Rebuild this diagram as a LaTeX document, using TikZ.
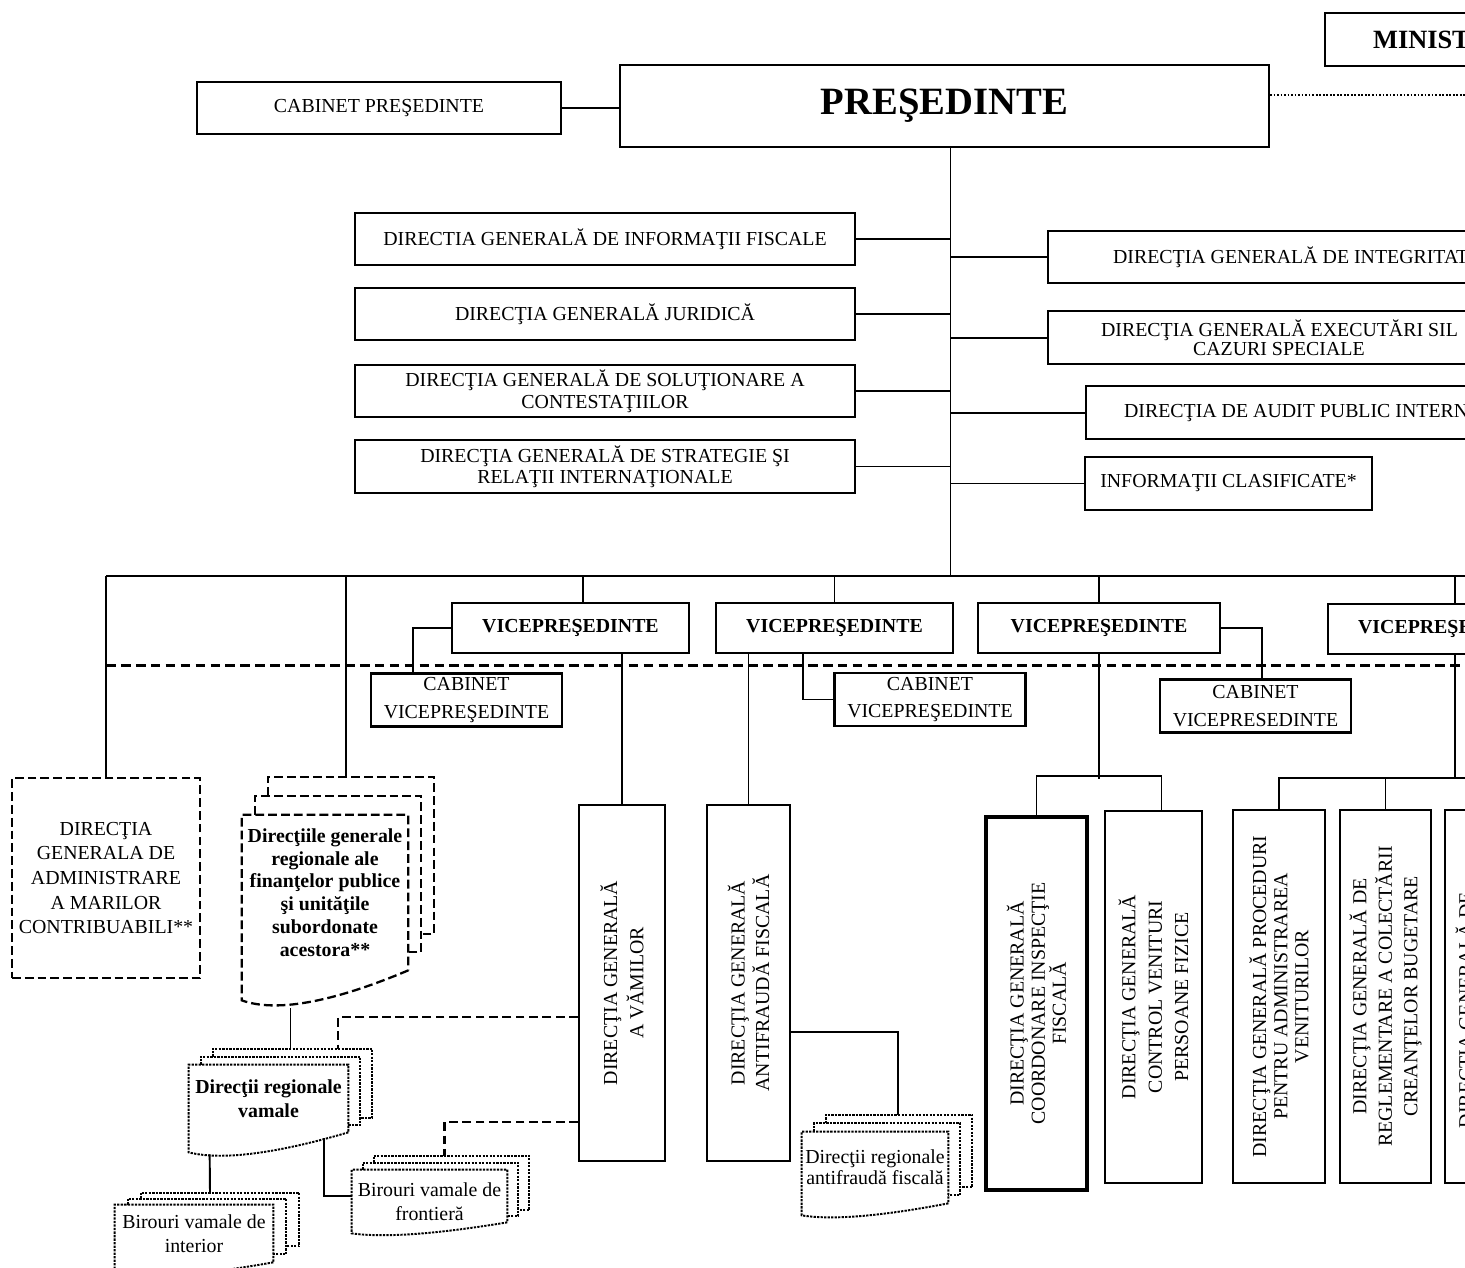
\documentclass[tikz,border=0pt]{standalone}
\usepackage{fontspec}
\setmainfont{Liberation Serif}
\usetikzlibrary{positioning,calc,fit}

\newcommand{\fs}{\fontsize{11.3}{12}\selectfont}
% stacked documents: #1 front node, #2 line style, #3 x step, #4 y step, #5 bottom step, #6 wave drop
\newcommand{\docstack}[6]{%
  \draw[#2] ($(#1.north west)+(#3,0)$) -- ++(0,-#4) -| ($(#1.south east)+(#3,-#5)$) -- ++(-#3,0);
  \draw[#2] ($(#1.north west)+(2*#3,-#4)$) -- ++(0,-#4) -| ($(#1.south east)+(2*#3,-2*#5)$) -- ++(-#3,0);
  \draw[#2] (#1.south east) .. controls ($(#1.south east)!0.47!(#1.south west)+(0,1.1*#6)$)
    and ($(#1.south east)!0.8!(#1.south west)+(0,1.4*#6)$) .. ($(#1.south west)+(0,#6)$)
    -- (#1.north west) -- (#1.north east) -- cycle;
}

\begin{document}
\begin{tikzpicture}[x=0.02cm, y=-0.02cm,
    box/.style={draw, line width=1.3pt, inner sep=0pt, align=center, font=\fs},
    dirbox/.style={box, minimum width=10cm, minimum height=1.05cm},
    edgebox/.style={box, anchor=north west, minimum height=1.06cm, text width=8cm, align=flush left},
    vpbox/.style={box, minimum height=1cm, font=\fs\bfseries},
    cabbox/.style={box, minimum width=3.82cm, minimum height=1.06cm, font=\fontsize{11.3}{15.5}\selectfont},
    stacktext/.style={inner sep=0pt, align=center, font=\fs},
    vtext/.style={rotate=90, align=center, inner sep=0pt},
    link/.style={line width=1.1pt},
    dlink/.style={line width=1.3pt, dash pattern=on 5pt off 2.6pt},
    dotline/.style={line width=1pt, dash pattern=on 1pt off 1pt},
    sepline/.style={line width=1.7pt, dash pattern=on 5.5pt off 3pt},
    dashbox/.style={line width=1.3pt, dash pattern=on 5pt off 2.3pt},
    dotbox/.style={line width=1.1pt, dash pattern=on 1.3pt off 0.7pt}]
    \useasboundingbox (0,0) rectangle (1465,1268);
    \fill[white] (0,0) rectangle (1465,1268);
    \clip (0,0) rectangle (1465,1268);

    % President
    \node[box, minimum width=7.28cm, minimum height=1.04cm] (cabpres) at (379,108) {CABINET PREŞEDINTE};
    \node[box, minimum width=12.98cm, minimum height=1.64cm, font=\fontsize{22}{24}\selectfont\bfseries] (pres) at (944.5,106) {PREŞEDINTE};
    \node[edgebox, inner xsep=0.96cm, font=\fontsize{15}{16}\selectfont\bfseries] (minist) at (1324,12) {MINIST};
    \draw[link] (cabpres.east) -- (cabpres.east -| pres.west);
    \draw[dotline] ($(pres.east)+(0,-11)$) -- ++(220,0);

    % General directions on the trunk
    \node[dirbox] (dgif) at (605,239) {DIRECTIA GENERALĂ DE INFORMAŢII FISCALE};
    \node[dirbox] (dgj) at (605,314) {DIRECŢIA GENERALĂ JURIDICĂ};
    \node[dirbox, font=\fontsize{11.3}{12.5}\selectfont] (dgsc) at (605,391) {DIRECŢIA GENERALĂ DE SOLUŢIONARE A\\CONTESTAŢIILOR};
    \node[dirbox, font=\fontsize{11.3}{12}\selectfont] (dgsri) at (605,466.5) {DIRECŢIA GENERALĂ DE STRATEGIE ŞI\\RELAŢII INTERNAŢIONALE};
    \node[edgebox, minimum height=1.04cm, inner xsep=1.3cm] (dgi) at (1047,230) {DIRECŢIA GENERALĂ DE INTEGRITAT};
    \node[edgebox, inner xsep=1.06cm, font=\fontsize{11.3}{11}\selectfont] (dges) at (1047,310) {DIRECŢIA GENERALĂ EXECUTĂRI SIL\\\hspace*{1.84cm}CAZURI SPECIALE};
    \node[edgebox, inner xsep=0.76cm] (dapi) at (1085,385) {DIRECŢIA DE AUDIT PUBLIC INTERN};
    \node[box, minimum width=5.74cm, minimum height=1.06cm] (ic) at (1228.5,483.5) {INFORMAŢII CLASIFICATE*};

    \coordinate (t0) at ($(pres.south)+(6,0)$);
    \coordinate (busL) at (106,576);
    \coordinate (busR) at (1480,576);
    \draw[link] (t0) -- (t0 |- busL);
    \draw[link] (dgif.east) -- (dgif.east -| t0);
    \draw[link] (dgj.east) -- (dgj.east -| t0);
    \draw[link] (dgsc.east) -- (dgsc.east -| t0);
    \draw[link] (dgsri.east) -- (dgsri.east -| t0);
    \draw[link] (dgi.west) -- (dgi.west -| t0);
    \draw[link] (dges.west) -- (dges.west -| t0);
    \draw[link] (dapi.west) -- (dapi.west -| t0);
    \draw[link] (ic.west) -- (ic.west -| t0);

    % Vice-presidents
    \draw[link] (busL) -- (busR);
    \node[vpbox, minimum width=4.74cm] (vp1) at (570.5,628) {VICEPREŞEDINTE};
    \node[vpbox, minimum width=4.74cm] (vp2) at (834.5,628) {VICEPREŞEDINTE};
    \node[vpbox, minimum width=4.84cm] (vp3) at (1099,628) {VICEPREŞEDINTE};
    \node[vpbox, anchor=north west, text width=6cm, inner xsep=0.6cm, align=flush left] (vp4) at (1327,603) {VICEPREŞE};
    \coordinate (d1) at (346,576);
    \coordinate (d2) at (583,576);
    \coordinate (d5) at (1455,576);
    \draw[link] (d2) -- (d2 |- vp1.north);
    \draw[link] (vp2.north |- busL) -- (vp2.north);
    \draw[link] (vp3.north |- busL) -- (vp3.north);
    \draw[link] (d5) -- (d5 |- vp4.north);
    \draw[sepline] (106,665) -- (1480,665);

    % Cabinets
    \node[cabbox] (cvp1) at (466.5,700) {CABINET\\VICEPREŞEDINTE};
    \node[cabbox] (cvp2) at (930,699.5) {CABINET\\VICEPREŞEDINTE};
    \node[cabbox] (cvp3) at (1255.5,706) {CABINET\\VICEPRESEDINTE};
    \draw[link] (vp1.west) -| ($(cvp1.north west)+(43,0)$);
    \draw[link] ($(vp2.south west)+(88,0)$) |- (cvp2.west);
    \draw[link] (vp3.east) -| ($(cvp3.north west)+(103,0)$);

    % Regional structures
    \node[box, dashbox, minimum width=3.76cm, minimum height=4cm, font=\fontsize{11.3}{14}\selectfont] (dgamc) at (106,878) {DIRECŢIA\\GENERALA DE\\ADMINISTRARE\\A MARILOR\\CONTRIBUABILI**};
    \draw[link] (busL) -- (dgamc.north);
    \draw[link] (d1) -- (d1 |- dgamc.north);
    \node[stacktext, minimum width=3.32cm, minimum height=3.1cm, font=\fontsize{11.3}{13}\selectfont\bfseries] (dgrfp) at (325,892.5) {Direcţiile generale\\regionale ale\\finanţelor publice\\şi unităţile\\subordonate\\acestora**};
    \docstack{dgrfp}{dashbox}{13}{19}{18}{30}

    % Customs and anti-fraud
    \node[box, fit={(579,805) (665,1161)}] (dgv) {};
    \node[vtext, font=\fontsize{11.3}{15}\selectfont] (dgvt) at (dgv.center) {DIRECŢIA GENERALĂ\\A VĂMILOR};
    \draw[link] (dgv.north |- vp1.south) -- (dgv.north);
    \node[box, fit={(707,805) (790,1161)}] (dgaf) {};
    \node[vtext, font=\fontsize{11.3}{14}\selectfont] (dgaft) at (dgaf.center) {DIRECŢIA GENERALĂ\\ANTIFRAUDĂ FISCALĂ};
    \draw[link] (dgaf.north |- vp2.south) -- (dgaf.north);

    \node[stacktext, minimum width=3.18cm, minimum height=1.34cm, font=\fontsize{11.3}{13.6}\selectfont\bfseries] (drv) at (268.5,1098.5) {Direcţii regionale\\vamale};
    \docstack{drv}{dotbox}{12}{8}{7}{20}
    \draw[link] ($(drv.north)+(22,-16)$) -- ++(0,-41);
    \draw[dlink] ($(dgv.west)+(0,34)$) -| ($(drv.north east)+(-10,-16)$);
    \node[stacktext, minimum width=3.1cm, minimum height=1.04cm, font=\fontsize{11.3}{13.6}\selectfont] (bvf) at (429.5,1196) {\rule{0pt}{14pt}Birouri vamale de\\frontieră};
    \docstack{bvf}{dotbox}{11}{7}{6}{11}
    \draw[dlink] ($(dgv.west)+(0,139)$) -| ($(bvf.north)+(15,-14)$);
    \draw[link] ($(drv.south east)+(-24,6)$) |- (bvf.west);
    \node[stacktext, minimum width=3.16cm, minimum height=1.14cm, font=\fontsize{11.3}{14}\selectfont] (bvi) at (194,1233.5) {Birouri vamale de\\interior};
    \docstack{bvi}{dotbox}{13}{6}{8}{12}
    \draw[link] ($(drv.south west)+(21,22)$) -- ($(bvi.north)+(16,-12)$);
    \node[stacktext, minimum width=2.92cm, minimum height=1.42cm, font=\fontsize{11.3}{12}\selectfont] (draf) at (875,1167.5) {Direcţii regionale\\antifraudă fiscală};
    \docstack{draf}{dotbox}{12}{8.5}{8}{12}
    \draw[link] ($(dgaf.east)+(0,49)$) -| ($(draf.north)+(23,-17)$);

    % Directions under the third and fourth vice-president
    \node[box, line width=2pt, fit={(986,817) (1087,1190)}] (dgcif) {};
    \node[vtext, font=\fontsize{11.3}{12}\selectfont] (dgcift) at (dgcif.center) {DIRECŢIA GENERALĂ\\COORDONARE INSPECŢIE\\FISCALĂ};
    \node[box, fit={(1105,811) (1202,1183)}] (dgcvpf) {};
    \node[vtext, font=\fontsize{11.3}{15}\selectfont] (dgcvpft) at (dgcvpf.center) {DIRECŢIA GENERALĂ\\CONTROL VENITURI\\PERSOANE FIZICE};
    \draw[link] (vp3.south) -- ++(0,125);
    \draw[link] (dgcif.north) -- ++(0,-39) -| ($(dgcvpf.north)+(8,0)$);

    \coordinate (br4) at (1480,778);
    \node[box, fit={(1233,810) (1325,1183)}] (dgpav) {};
    \node[vtext, font=\fontsize{11.3}{12}\selectfont] (dgpavt) at (dgpav.center) {DIRECŢIA GENERALĂ PROCEDURI\\PENTRU ADMINISTRAREA\\VENITURILOR};
    \node[box, fit={(1340,810) (1431,1183)}] (dgrccb) {};
    \node[vtext, font=\fontsize{11.3}{14.5}\selectfont] (dgrccbt) at (dgrccb.center) {DIRECŢIA GENERALĂ DE\\REGLEMENTARE A COLECTĂRII\\CREANŢELOR BUGETARE};
    \node[box, fit={(1445,810) (1700,1183)}] (dglast) {};
    \node[vtext, font=\fs] (dglastt) at (1466,1010) {DIRECŢIA GENERALĂ DE};
    \draw[link] (dgpav.north) |- (br4);
    \draw[link] (dgrccb.north) -- (dgrccb.north |- br4);
    \draw[link] (d5 |- vp4.south) -- (d5 |- br4);
\end{tikzpicture}
\end{document}
